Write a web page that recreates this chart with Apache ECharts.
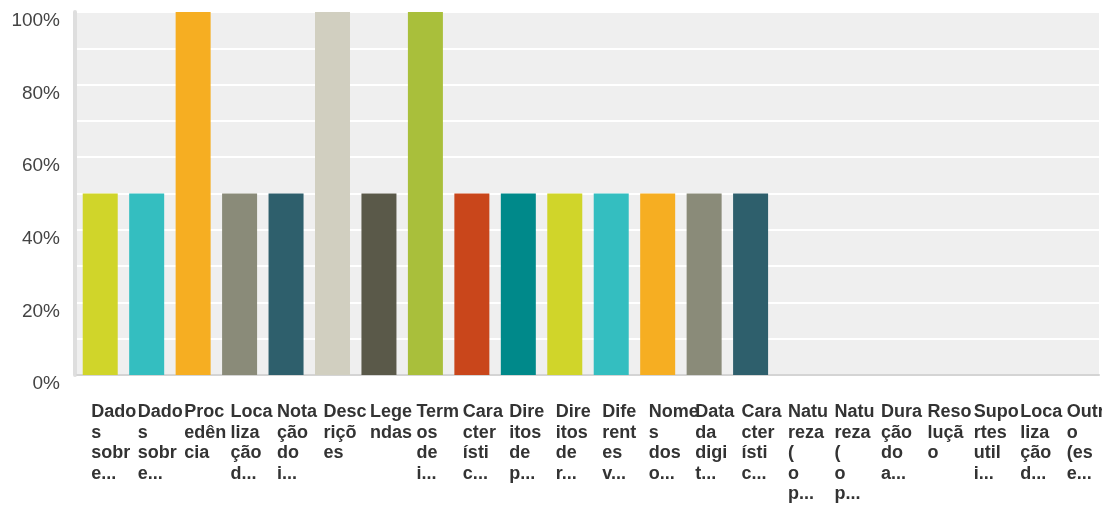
<!DOCTYPE html>
<html>
<head>
<meta charset="utf-8">
<style>
  html, body { margin: 0; padding: 0; background: #fff; }
  #chart { width: 1102px; height: 511px; }
</style>
<script src="https://cdn.jsdelivr.net/npm/echarts@6/dist/echarts.min.js"></script>
</head>
<body>
<div id="chart"></div>
<script>
// rótulos das categorias, já quebrados como aparecem no gráfico
var categories = [
  'Dado\ns\nsobr\ne...', 'Dado\ns\nsobr\ne...', 'Proc\nedên\ncia', 'Loca\nliza\nção\nd...',
  'Nota\nção\ndo\ni...', 'Desc\nriçõ\nes', 'Lege\nndas', 'Term\nos\nde\ni...',
  'Cara\ncter\nísti\nc...', 'Dire\nitos\nde\np...', 'Dire\nitos\nde\nr...', 'Dife\nrent\nes\nv...',
  'Nome\ns\ndos\no...', 'Data\nda\ndigi\nt...', 'Cara\ncter\nísti\nc...', 'Natu\nreza\n(\no\np...',
  'Natu\nreza\n(\no\np...', 'Dura\nção\ndo\na...', 'Reso\nluçã\no', 'Supo\nrtes\nutil\ni...',
  'Loca\nliza\nção\nd...', 'Outr\no\n(es\ne...'
];
var values = [50, 50, 100, 50, 50, 100, 50, 100, 50, 50, 50, 50, 50, 50, 50, 0, 0, 0, 0, 0, 0, 0];
var yTicks = [0, 20, 40, 60, 80, 100];

var palette = ['#d0d52a', '#34bec0', '#f6ae22', '#8a8b79', '#2e5f6c',
               '#d1cfc0', '#5a5949', '#a9bf3b', '#c9461b', '#00898a'];

var chart = echarts.init(document.getElementById('chart'));

chart.setOption({
  backgroundColor: '#fff',
  animation: false,
  grid: {
    left: 77,
    right: 3,
    top: 12,
    bottom: 136,
    outerBoundsMode: 'none',
    show: true,
    backgroundColor: '#efefef',
    borderWidth: 0
  },
  xAxis: {
    type: 'category',
    data: categories,
    offset: 1,
    axisTick: { show: false },
    axisLine: {
      lineStyle: { color: '#d4d4d4', width: 2 }
    },
    axisLabel: {
      interval: 0,
      hideOverlap: false,
      align: 'left',
      padding: [0, 0, 0, -9],   // texto começa um pouco à esquerda do centro
      margin: 26,
      lineHeight: 20.5,
      fontSize: 18,
      fontWeight: 'bold',
      fontFamily: 'Liberation Sans, Arial, sans-serif',
      color: '#333'
    }
  },
  yAxis: {
    type: 'value',
    min: yTicks[0],
    max: yTicks[yTicks.length - 1],
    interval: 20,
    offset: 2,
    axisTick: { show: false },
    axisLine: {
      show: true,
      lineStyle: { color: '#dedede', width: 4 }
    },
    axisLabel: {
      formatter: '{value}%',
      margin: 15,
      verticalAlign: 'top',
      lineHeight: 18,
      fontSize: 19,
      fontFamily: 'Liberation Sans, Arial, sans-serif',
      color: '#444'
    },
    splitLine: {
      lineStyle: { color: '#fff', width: 2 }
    },
    minorTick: { show: false, splitNumber: 2 },
    minorSplitLine: {
      show: true,
      lineStyle: { color: '#fff', width: 2 }
    }
  },
  series: [{
    type: 'bar',
    data: values,
    barWidth: 35,
    itemStyle: {
      color: function (p) {
        return palette[p.dataIndex % palette.length];
      }
    }
  }]
});
</script>
</body>
</html>
